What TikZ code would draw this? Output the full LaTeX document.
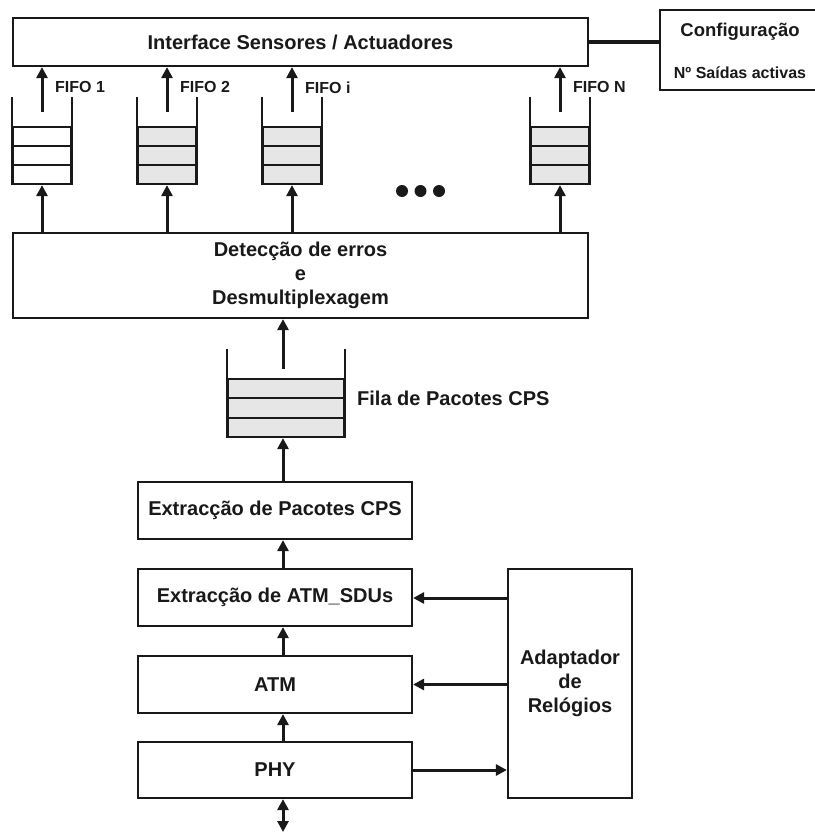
\documentclass[tikz,border=0pt]{standalone}
\usepackage{fontspec}
\setmainfont{Liberation Sans}
\usetikzlibrary{arrows.meta,calc}
\definecolor{cellgray}{RGB}{230,230,230}
\definecolor{ink}{RGB}{25,25,25}
\begin{document}
\begin{tikzpicture}[x=1bp,y=-1bp,
  every node/.style={text=ink},
  box/.style={draw=ink,line width=2.2bp,fill=white,inner sep=0pt,align=center,
    font=\fontsize{20bp}{24bp}\selectfont\bfseries},
  cellbox/.style={draw=ink,line width=2.2bp,minimum width=58bp,minimum height=57bp,inner sep=0pt},
  wall/.style={draw=ink,line width=2.2bp},
  arr/.style={draw=ink,line width=3bp,-{Triangle[width=11bp,length=11bp]}},
  lbl/.style={font=\fontsize{16bp}{19bp}\selectfont\bfseries,anchor=west,inner sep=0pt},
  bigl/.style={font=\fontsize{20bp}{24bp}\selectfont\bfseries,anchor=west,inner sep=0pt}]
\useasboundingbox (0,0) rectangle (815,833);
\clip (0,0) rectangle (815,833);

% top interface and configuration block
\node[box,minimum width=575bp,minimum height=48bp] (iface) at (300.5,42) {Interface Sensores / Actuadores};
\node[box,minimum width=170bp,minimum height=80bp] (config) at (745,50) {};
\node[font=\fontsize{18.5bp}{22bp}\selectfont\bfseries,inner sep=0pt] (cfgt) at (740,32) {Configuração};
\node[font=\fontsize{16bp}{19bp}\selectfont\bfseries,inner sep=0pt] (cfgn) at (740,73) {Nº Saídas activas};
\draw[ink,line width=4bp] (iface.east) -- (iface.east -| config.west);

% error detection / demultiplexing block
\node[box,minimum width=575bp,minimum height=85bp] (det) at (300.5,275.5) {Detecção de erros\\e\\Desmultiplexagem};

% output FIFOs
\foreach \n/\cx/\fc/\t in {f1/42/white/FIFO 1, f2/167/cellgray/FIFO 2, fi/292/cellgray/FIFO i, fN/560/cellgray/FIFO N}{
  \node[cellbox,fill=\fc] (\n) at (\cx,155.5) {};
  \draw[wall] ($(\n.north west)+(0,-29)$) -- (\n.south west);
  \draw[wall] ($(\n.north east)+(0,-29)$) -- (\n.south east);
  \draw[wall] ($(\n.north west)!1/3!(\n.south west)$) -- ($(\n.north east)!1/3!(\n.south east)$);
  \draw[wall] ($(\n.north west)!2/3!(\n.south west)$) -- ($(\n.north east)!2/3!(\n.south east)$);
  \coordinate (\n o) at ($(\n.north)+(0,-14)$);
  \draw[arr] (\n o) -- (\n o |- iface.south);
  \draw[arr] (det.north -| \n.south) -- (\n.south);
  \node[lbl] (\n l) at ($(\n.north)+(13,-38.5)$) {\t};
}

% ellipsis between FIFOs
\fill[ink] (402,191) circle[radius=6bp] (420.5,191) circle[radius=6bp] (439,191) circle[radius=6bp];

% CPS packet queue
\node[cellbox,fill=cellgray,minimum width=116bp,minimum height=58bp] (cpsq) at (286,408) {};
\draw[wall] ($(cpsq.north west)+(0,-29)$) -- (cpsq.south west);
\draw[wall] ($(cpsq.north east)+(0,-29)$) -- (cpsq.south east);
\draw[wall] ($(cpsq.north west)!1/3!(cpsq.south west)$) -- ($(cpsq.north east)!1/3!(cpsq.south east)$);
\draw[wall] ($(cpsq.north west)!2/3!(cpsq.south west)$) -- ($(cpsq.north east)!2/3!(cpsq.south east)$);
\node[bigl] (cpsl) at (357,398) {Fila de Pacotes CPS};
\coordinate (cpsqo) at (283,369);
\draw[arr] (cpsqo) -- (cpsqo |- det.south);

% receive chain
\node[box,minimum width=274bp,minimum height=57bp] (cpsx) at (275,510.5) {Extracção de Pacotes CPS};
\node[box,minimum width=274bp,minimum height=57bp] (atmx) at (275,597.5) {Extracção de ATM\_SDUs};
\node[box,minimum width=274bp,minimum height=57bp] (atm) at (275,684.5) {ATM};
\node[box,minimum width=274bp,minimum height=56bp] (phy) at (275,770) {PHY};
\node[box,minimum width=124bp,minimum height=229bp] (adapt) at (570,683.5) {Adaptador\\de\\Relógios};

\coordinate (spine) at (283,0);
\coordinate (io) at (283,832);
\draw[arr] (cpsx.north -| spine) -- (cpsq.south -| spine);
\draw[arr] (atmx.north -| spine) -- (cpsx.south -| spine);
\draw[arr] (atm.north -| spine) -- (atmx.south -| spine);
\draw[arr] (phy.north -| spine) -- (atm.south -| spine);
\draw[arr,{Triangle[width=11bp,length=11bp]}-{Triangle[width=11bp,length=11bp]}] (phy.south -| spine) -- (io);

% clock adapter links
\draw[arr] (adapt.west |- 0,598) -- (atmx.east |- 0,598);
\draw[arr] (adapt.west |- atm.east) -- (atm.east);
\draw[arr] (phy.east) -- (phy.east -| adapt.west);
\end{tikzpicture}
\end{document}
